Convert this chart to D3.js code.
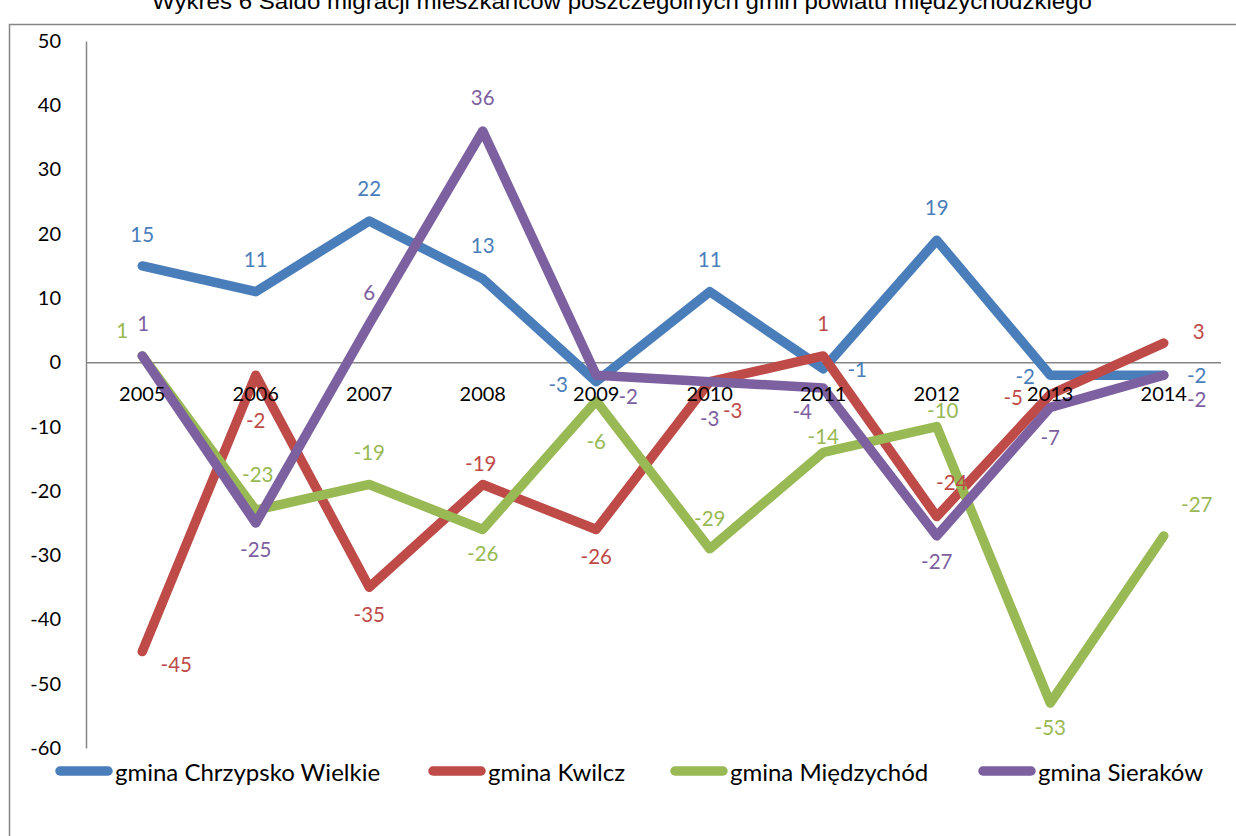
<!DOCTYPE html>
<html><head><meta charset="utf-8">
<script src="https://cdn.jsdelivr.net/npm/d3@7"></script>
<style>html,body{margin:0;padding:0;background:#fff;} svg{display:block;}</style>
</head><body>
<svg id="chart" width="1236" height="836"></svg>
<script>
const title = "Wykres 6 Saldo migracji mieszkańców poszczególnych gmin powiatu międzychodzkiego";
const years = ["2005","2006","2007","2008","2009","2010","2011","2012","2013","2014"];
const seriesNames = ["gmina Chrzypsko Wielkie","gmina Kwilcz","gmina Międzychód","gmina Sieraków"];
const chrzypsko = [15, 11, 22, 13, -3, 11, -1, 19, -2, -2];
const kwilcz    = [-45, -2, -35, -19, -26, -3, 1, -24, -5, 3];
const miedzychod= [1, -23, -19, -26, -6, -29, -14, -10, -53, -27];
const sierakow  = [1, -25, 6, 36, -2, -3, -4, -27, -7, -2];
const yTicks = [50, 40, 30, 20, 10, 0, -10, -20, -30, -40, -50, -60];
const colors = ["#4A7EBB", "#BE4B48", "#98B954", "#7D60A0"];

// label placement offsets (px from the point), styling only
const labelOffsets = [
  [[0,-32],[0,-33],[0,-33],[0,-34],[-38,2],[0,-33],[34,0],[0,-33],[-25,1],[33,0]],
  [[34,12],[0,45],[0,27],[-2,-21],[0,27],[23,28],[0,-33],[15,-35],[-37,2],[35,-12]],
  [[-20,-26],[2,-36],[0,-32],[0,24],[0,40],[0,-31],[0,-16],[6,-17],[0,24],[33,-32]],
  [[1,-33],[0,26],[0,-32],[0,-34],[32,21],[0,36],[-21,23],[0,25],[0,30],[33,24]]
];
const legendX = [55, 428, 670, 978];

const seriesValues = [chrzypsko, kwilcz, miedzychod, sierakow];
const FONT = "Lato, 'Open Sans', sans-serif";

const svg = d3.select("#chart");

// outer chart border
svg.append("rect").attr("x", 9.5).attr("y", 24.5).attr("width", 1300).attr("height", 900)
  .attr("fill", "none").attr("stroke", "#868686").attr("stroke-width", 1.5);

// title (clipped at top as in the reference)
svg.append("text").attr("x", 622).attr("y", 9).attr("text-anchor", "middle")
  .attr("font-family", "'Liberation Sans Narrow', 'Arial Narrow', 'Liberation Sans', sans-serif")
  .attr("font-size", 22).attr("textLength", 940).attr("lengthAdjust", "spacingAndGlyphs")
  .attr("fill", "#000").text(title);

const x = d3.scaleBand().domain(years).range([85.5, 1220.5]);
const y = d3.scaleLinear().domain([-60, 50]).range([748, 41]);
const cx = d => x(d) + x.bandwidth() / 2;

// y axis
const yAxis = d3.axisLeft(y).tickValues(yTicks).tickSize(0).tickPadding(25).tickFormat(d => String(d));
const gy = svg.append("g").attr("transform", "translate(86,0)").call(yAxis);
gy.select(".domain").attr("stroke", "#868686").attr("stroke-width", 1.5);
gy.selectAll("text").attr("font-family", FONT).attr("font-size", 20).attr("fill", "#000");

// category axis at zero
const xAxis = d3.axisBottom(x).tickSize(0).tickFormat(() => "");
const gx = svg.append("g").attr("transform", `translate(0,${y(0)})`).call(xAxis);
gx.select(".domain").attr("stroke", "#868686").attr("stroke-width", 1.5);

// lines
const line = d3.line().x((d, i) => cx(years[i])).y(d => y(d));
seriesValues.forEach((vals, s) => {
  svg.append("path").datum(vals).attr("d", line)
    .attr("fill", "none").attr("stroke", colors[s]).attr("stroke-width", 9.5)
    .attr("stroke-linejoin", "round").attr("stroke-linecap", "round");
});

// category labels
svg.append("g").selectAll("text").data(years).join("text")
  .attr("x", d => cx(d)).attr("y", y(0) + 31).attr("text-anchor", "middle")
  .attr("dominant-baseline", "central")
  .attr("font-family", FONT).attr("font-size", 20).attr("fill", "#000").text(d => d);

// data labels
seriesValues.forEach((vals, s) => {
  svg.append("g").selectAll("text").data(vals).join("text")
    .attr("x", (d, i) => cx(years[i]) + labelOffsets[s][i][0])
    .attr("y", (d, i) => y(d) + labelOffsets[s][i][1])
    .attr("text-anchor", "middle").attr("dominant-baseline", "central")
    .attr("font-family", FONT).attr("font-size", 20.5).attr("fill", colors[s])
    .text(d => String(d));
});

// legend
const lg = svg.append("g");
seriesNames.forEach((name, s) => {
  lg.append("line").attr("x1", legendX[s] + 5).attr("x2", legendX[s] + 53)
    .attr("y1", 771).attr("y2", 771).attr("stroke", colors[s]).attr("stroke-width", 9.5)
    .attr("stroke-linecap", "round");
  lg.append("text").attr("x", legendX[s] + 60).attr("y", 771).attr("dominant-baseline", "central")
    .attr("font-family", FONT).attr("font-size", 24).attr("fill", "#000").text(name);
});
</script>
</body></html>
